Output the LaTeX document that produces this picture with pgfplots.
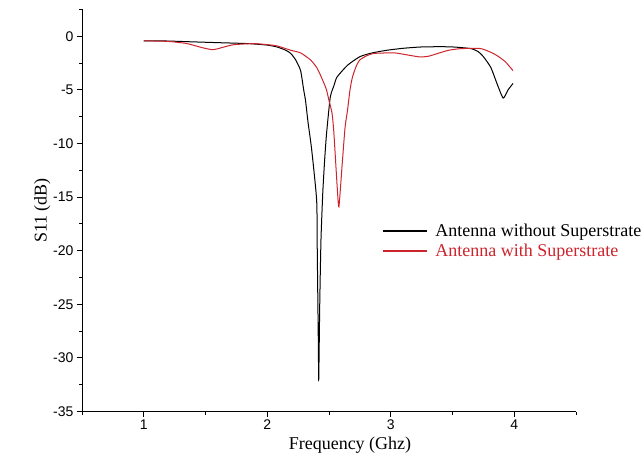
\documentclass[border=0pt]{standalone}
\usepackage{pgfplots}
\pgfplotsset{compat=1.18}
\usepackage{fontspec}
\setmainfont{Liberation Serif}
\newfontfamily\tickfont{Liberation Sans}
\definecolor{sred}{RGB}{205,35,45}

% S11 without superstrate
\pgfplotstableread{
x y
1.00 -0.42
1.19 -0.44
1.40 -0.52
1.59 -0.59
1.84 -0.68
2.00 -0.82
2.08 -1.00
2.15 -1.30
2.19 -1.60
2.23 -2.20
2.27 -3.20
2.295 -5.00
2.31 -6.00
2.33 -8.00
2.36 -10.6
2.40 -15.3
2.405 -20.0
2.41 -25.0
2.414 -29.0
2.417 -32.0
2.425 -25.0
2.435 -19.0
2.45 -14.5
2.465 -11.5
2.48 -9.1
2.51 -5.7
2.54 -4.6
2.565 -3.8
2.65 -2.7
2.75 -1.9
2.85 -1.55
2.97 -1.30
3.10 -1.12
3.24 -1.00
3.40 -0.97
3.51 -1.00
3.65 -1.15
3.71 -1.45
3.75 -1.90
3.81 -2.90
3.86 -4.40
3.91 -5.76
3.95 -5.00
3.99 -4.40
}\withoutsup

% S11 with superstrate
\pgfplotstableread{
x y
1.00 -0.42
1.20 -0.48
1.35 -0.68
1.47 -1.05
1.56 -1.25
1.65 -1.00
1.73 -0.78
1.89 -0.68
2.00 -0.78
2.08 -0.90
2.19 -1.30
2.27 -1.55
2.35 -2.20
2.40 -2.90
2.43 -3.60
2.46 -4.40
2.48 -5.00
2.50 -6.00
2.525 -7.20
2.54 -9.10
2.565 -13.8
2.58 -15.9
2.605 -12.2
2.63 -8.5
2.65 -6.9
2.67 -5.0
2.69 -3.8
2.72 -2.8
2.75 -2.2
2.80 -1.85
2.86 -1.60
3.03 -1.55
3.14 -1.75
3.24 -1.93
3.31 -1.85
3.38 -1.60
3.47 -1.30
3.57 -1.15
3.73 -1.15
3.83 -1.60
3.88 -1.95
3.93 -2.40
3.99 -3.20
}\withsup

\begin{document}
\begin{tikzpicture}
\begin{axis}[
  at={(0,0)}, anchor=south west,
  scale only axis, width=494pt, height=402pt,
  xmin=0.5, xmax=4.5, ymin=-35, ymax=2.5,
  axis lines*=left,
  xtick={1,2,3,4}, minor xtick={0.5,1.5,2.5,3.5,4.5},
  ytick={-35,-30,...,0}, minor ytick={-32.5,-27.5,...,2.5},
  tick align=outside, major tick length=5pt, minor tick length=3pt,
  tick style={black, line width=0.8pt},
  axis line style={line width=0.8pt},
  ticklabel style={font=\tickfont\fontsize{14}{14}\selectfont},
  /pgf/number format/assume math mode=true,
  xlabel={Frequency (Ghz)}, ylabel={S11 (dB)},
  label style={font=\fontsize{18}{18}\selectfont},
  xlabel style={at={(axis description cs:0.5425,0)}, anchor=north, yshift=-22pt},
  ylabel style={yshift=-4pt},
  legend image code/.code={\draw[#1, line width=2.6pt] (0pt,0pt) -- (44pt,0pt); \path (50pt,0pt);},
  legend style={draw=none, fill=none, at={(axis cs:2.925,-19.1)}, anchor=west,
    inner xsep=0pt, font=\fontsize{18}{18}\selectfont, row sep=2pt},
  legend cell align=left,
]
\addplot[black, line width=1pt, smooth, tension=0.35] table {\withoutsup};
\addlegendentry{Antenna without Superstrate}
\addplot[sred, line width=1pt, smooth, tension=0.35] table {\withsup};
\addlegendentry{\textcolor{sred}{Antenna with Superstrate}}
\end{axis}
\path (-82pt,-45.5pt) rectangle (562pt,411.5pt);
\end{tikzpicture}
\end{document}
